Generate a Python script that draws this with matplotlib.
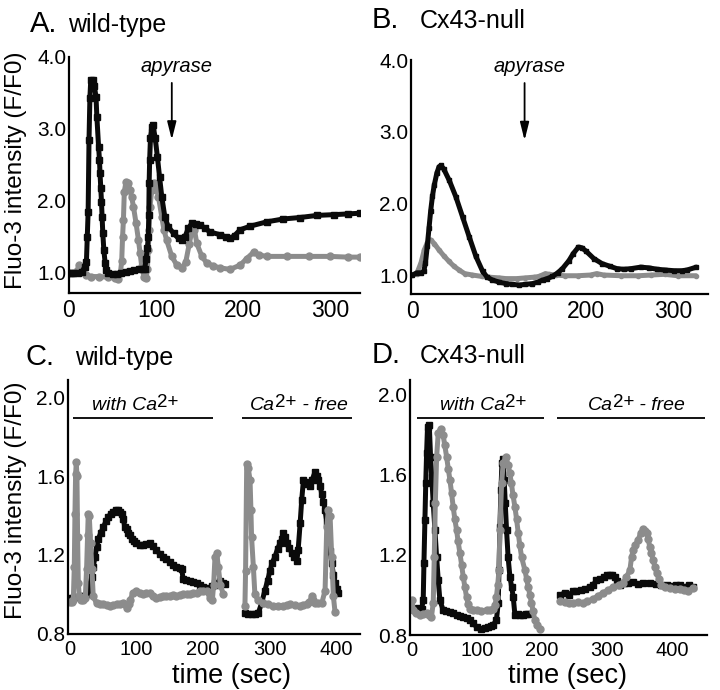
import numpy as np
import matplotlib.pyplot as plt

plt.rcParams['font.family'] = ['Liberation Sans', 'DejaVu Sans']

BLACK = '#0a0a0a'
GRAY = '#8c8c8c'

# ---- Panel A: wild-type, apyrase ----
a_black_t = [0, 5, 10, 15, 18, 20, 21, 22, 23, 24, 25, 27, 29, 31, 32, 34, 35, 35.6, 36.5, 37.3,
             38, 38.8, 40, 41.5, 43, 45, 50, 55, 60, 65, 70, 75, 80, 85, 87, 88.5, 90, 91, 91.6, 92,
             92.6, 93.5, 95, 96.5, 99, 101.5, 104, 106.5, 110, 114, 120, 125.7, 129.5, 133, 137, 141,
             146, 150.6, 156, 162, 173.6, 180, 185, 190, 196.5, 208, 227, 246, 265, 285, 304, 320, 334]
a_black_v = [1.0, 1.0, 1.0, 1.02, 1.08, 1.15, 1.5, 1.85, 2.85, 3.43, 3.68, 3.68, 3.6, 3.45, 3.17, 2.75,
             2.57, 2.39, 2.18, 1.99, 1.78, 1.56, 1.32, 1.14, 1.04, 1.0, 0.98, 0.99, 1.0, 1.02, 1.03, 1.04,
             1.05, 1.05, 1.06, 1.2, 1.35, 1.5, 1.8, 2.25, 2.57, 2.87, 3.03, 3.05, 2.87, 2.61, 2.33, 2.06,
             1.78, 1.64, 1.55, 1.48, 1.46, 1.5, 1.62, 1.69, 1.68, 1.67, 1.62, 1.57, 1.53, 1.5, 1.48, 1.52,
             1.6, 1.65, 1.71, 1.75, 1.77, 1.8, 1.81, 1.82, 1.83]
a_gray_t = [0, 5, 9, 12, 15, 20, 25, 35, 45, 53, 56, 59, 60.5, 61.5, 62.5, 63.5, 65.5, 68, 70, 72, 74,
            77, 79.7, 81.6, 83.5, 86, 88.5, 90, 91, 92, 93, 95, 97.7, 100, 102.7, 106.5, 109, 112, 118,
            123.7, 129.5, 134, 138, 142, 144, 146.7, 152.5, 158, 165, 173.6, 185, 196.5, 204, 212, 218,
            227, 250, 275, 300, 320, 334]
a_gray_v = [1.0, 1.0, 1.03, 1.11, 1.04, 0.97, 0.95, 0.95, 0.94, 0.93, 0.92, 1.0, 1.16, 1.5, 1.74, 2.13,
            2.27, 2.25, 2.15, 2.05, 1.92, 1.69, 1.46, 1.28, 1.09, 0.95, 0.93, 1.05, 1.32, 1.6, 1.92, 2.15,
            2.25, 2.18, 2.06, 1.78, 1.6, 1.46, 1.23, 1.11, 1.07, 1.15, 1.4, 1.64, 1.6, 1.41, 1.23, 1.14,
            1.1, 1.07, 1.05, 1.11, 1.2, 1.29, 1.25, 1.23, 1.23, 1.23, 1.23, 1.22, 1.22]

# ---- Panel B: Cx43-null, apyrase ----
b_black_t = [0, 5, 10, 13, 15, 17, 19, 21, 23, 25, 28, 30.5, 32.8, 36, 42.4, 50, 57.7, 65.4, 73, 80.8,
             86, 92, 100, 107.5, 115, 122.8, 130, 138, 144, 149.7, 155, 161, 167, 172.6, 180, 185, 191,
             195, 200, 208.6, 218, 227.6, 235, 243, 252, 262.6, 272, 281.8, 291, 301, 310, 316, 326.6]
b_black_v = [1.0, 1.03, 1.03, 1.05, 1.17, 1.4, 1.65, 1.9, 2.1, 2.25, 2.42, 2.51, 2.53, 2.48, 2.32, 2.09,
             1.81, 1.53, 1.26, 1.05, 0.97, 0.93, 0.9, 0.88, 0.87, 0.86, 0.87, 0.88, 0.9, 0.93, 0.95, 0.98,
             1.03, 1.09, 1.2, 1.3, 1.39, 1.38, 1.33, 1.23, 1.16, 1.12, 1.09, 1.08, 1.09, 1.11, 1.1, 1.08,
             1.07, 1.06, 1.06, 1.07, 1.11]
b_gray_t = [0, 5, 9.8, 13.6, 17, 21, 25, 30.5, 36, 42, 48, 53.7, 60, 69, 80, 88, 100, 107.5, 120, 130,
            140, 145.6, 153, 157, 165, 175, 190, 205, 212, 220, 240, 260, 275, 290, 305, 326]
b_gray_v = [1.0, 1.02, 1.17, 1.35, 1.45, 1.49, 1.44, 1.35, 1.27, 1.19, 1.12, 1.07, 1.02, 1.0, 0.98, 0.97,
            0.96, 0.95, 0.95, 0.96, 0.97, 0.98, 1.02, 1.01, 1.0, 0.99, 0.99, 1.0, 1.02, 1.0, 0.99, 0.99,
            1.0, 1.01, 0.99, 0.99]

# ---- Panel C: wild-type, with Ca2+ / Ca2+-free ----
c1_black_t = [0, 5, 10, 15, 20, 25, 27.5, 30, 32.6, 35, 37.6, 40, 42.6, 46, 50, 54, 57.6, 61, 65, 69,
              72.6, 75, 77.7, 80, 82.7, 85, 87.7, 90, 92.8, 96, 100, 105, 110, 115, 120, 125, 130, 135,
              140, 145, 150, 155, 160, 165, 168, 170, 175, 180, 185, 190.5, 195, 200.5, 205, 210.5,
              214, 218, 222, 226, 230, 233]
c1_black_v = [0.98, 0.98, 0.985, 0.99, 0.99, 1.0, 1.01, 1.05, 1.09, 1.14, 1.19, 1.24, 1.28, 1.31, 1.34,
              1.37, 1.39, 1.41, 1.42, 1.43, 1.43, 1.42, 1.41, 1.38, 1.34, 1.33, 1.31, 1.3, 1.28, 1.27,
              1.26, 1.25, 1.25, 1.255, 1.26, 1.245, 1.225, 1.205, 1.19, 1.18, 1.166, 1.15, 1.14, 1.135,
              1.13, 1.08, 1.075, 1.07, 1.065, 1.06, 1.05, 1.04, 1.035, 1.03, 1.045, 1.06, 1.05, 1.07,
              1.06, 1.055]
c2_black_t = [263, 268, 273, 278, 283, 288, 293, 297, 300.7, 304, 308, 312, 315.8, 318, 320.8, 323, 326,
              330, 333.5, 337, 341, 343, 346, 348.4, 351, 353, 356, 361, 364, 368.4, 371, 373.4, 376,
              378.5, 381, 383.5, 386, 388.5, 391, 393.5, 396, 398.5, 401, 403.5]
c2_black_v = [0.905, 0.9, 0.9, 0.9, 0.905, 0.955, 1.02, 1.07, 1.12, 1.16, 1.19, 1.23, 1.26, 1.28, 1.31,
              1.29, 1.26, 1.235, 1.21, 1.19, 1.17, 1.225, 1.36, 1.48, 1.58, 1.57, 1.56, 1.55, 1.58, 1.62,
              1.6, 1.58, 1.55, 1.51, 1.47, 1.43, 1.36, 1.29, 1.22, 1.16, 1.1, 1.06, 1.03, 1.01]
c1_gray_t = [0, 3, 5, 6.5, 7.5, 8.5, 9.5, 10.5, 11.5, 12.5, 14, 17, 20, 23, 25, 26.5, 27.5, 29, 31, 33,
             35, 40, 45, 50, 55, 60, 65, 70, 75, 80, 85, 88, 90, 95, 100, 105, 110, 115, 120, 125, 130,
             135, 140, 145, 150, 155, 160, 165, 170, 175.5, 180, 185, 190.5, 195.5, 200, 205.5, 210.5,
             214, 216, 218, 220.6, 223, 226, 230.6]
c1_gray_v = [0.96, 0.96, 0.97, 1.14, 1.41, 1.61, 1.67, 1.6, 1.29, 1.06, 0.99, 0.97, 0.97, 0.98, 1.13,
             1.3, 1.41, 1.4, 1.26, 1.13, 0.99, 0.955, 0.95, 0.95, 0.945, 0.94, 0.945, 0.95, 0.95, 0.955,
             0.93, 0.95, 0.97, 1.01, 1.02, 1.01, 1.0, 1.01, 1.01, 0.99, 0.98, 0.985, 0.99, 0.99, 0.99,
             0.995, 0.99, 0.995, 1.0, 1.0, 1.0, 1.005, 1.01, 1.02, 1.02, 1.02, 0.98, 0.97, 1.05, 1.19,
             1.21, 1.14, 1.05, 1.0]
c2_gray_t = [263, 264, 265.7, 268, 270.7, 272, 273, 275.7, 278, 283, 290.7, 298, 305.7, 313, 320.8, 326,
             331, 338, 346, 351, 356, 360, 363.4, 366, 368.4, 373, 378.5, 383.5, 386, 388.5, 391, 393.5,
             396, 398.5]
c2_gray_v = [0.94, 1.12, 1.66, 1.64, 1.58, 1.43, 1.29, 1.14, 1.0, 0.97, 0.955, 0.95, 0.94, 0.94, 0.94,
             0.945, 0.95, 0.945, 0.94, 0.945, 0.95, 0.96, 0.99, 0.97, 0.955, 0.955, 0.955, 1.02, 1.34,
             1.43, 1.4, 1.19, 0.99, 0.91]

# ---- Panel D: Cx43-null, with Ca2+ / Ca2+-free ----
d1_black_t = [0, 5, 10, 15, 17.4, 18.5, 20, 21.3, 22.6, 24, 26.7, 28.7, 30.5, 32.8, 35.4, 38, 40.5, 43,
              48, 53, 58.5, 63, 68.7, 74, 79, 84, 89, 94, 99.5, 107, 112, 117.4, 121, 125, 130, 132.8,
              134, 135.4, 137, 138.5, 140.5, 142, 143.6, 145.6, 148, 150.8, 153.5, 155.9, 158.5, 163.6,
              167, 171, 175, 179]
d1_black_v = [0.93, 0.93, 0.935, 0.93, 0.975, 1.16, 1.375, 1.56, 1.71, 1.84, 1.85, 1.69, 1.59, 1.46,
              1.325, 1.19, 1.075, 0.975, 0.925, 0.92, 0.915, 0.91, 0.9, 0.895, 0.89, 0.885, 0.875, 0.86,
              0.84, 0.83, 0.835, 0.84, 0.845, 0.85, 0.875, 0.96, 1.125, 1.34, 1.525, 1.66, 1.68, 1.575,
              1.46, 1.325, 1.19, 1.09, 1.04, 0.99, 0.9, 0.905, 0.9, 0.9, 0.905, 0.905]
d1_gray_t = [0, 2, 7, 12, 17, 22.6, 26, 30, 32.8, 34.4, 36, 38, 40.5, 44, 48, 50.5, 53.4, 56, 58.5, 61,
             63.5, 66, 68.7, 71, 73.8, 76.5, 79, 81.5, 84, 86.5, 89, 94, 99.5, 107, 115, 120, 125, 128,
             130, 132, 134, 135.4, 138, 140.5, 144.6, 148, 150.5, 153, 155.5, 158.5, 161, 163.6, 166,
             168.7, 173.8, 176.5, 179, 181.5, 184, 186.5, 189, 193, 197]
d1_gray_v = [0.975, 0.925, 0.91, 0.9, 0.905, 0.91, 0.9, 0.89, 0.96, 1.19, 1.46, 1.69, 1.81, 1.83, 1.8,
             1.75, 1.69, 1.63, 1.575, 1.51, 1.44, 1.38, 1.325, 1.27, 1.21, 1.15, 1.09, 1.04, 0.99, 0.955,
             0.93, 0.925, 0.925, 0.92, 0.925, 0.925, 0.93, 0.95, 0.99, 1.05, 1.125, 1.325, 1.56, 1.66,
             1.69, 1.65, 1.61, 1.56, 1.5, 1.44, 1.38, 1.31, 1.25, 1.19, 1.125, 1.08, 1.04, 1.0, 0.96,
             0.92, 0.875, 0.85, 0.83]
d2_black_t = [228, 235, 242, 248, 253, 260, 267, 274, 279, 284, 290, 296, 300, 304.6, 308, 312, 316, 320,
              326, 333, 340.5, 348, 356, 366, 375, 383, 392, 400, 406, 412, 420, 426, 432.8]
d2_black_v = [1.0, 1.01, 1.0, 1.02, 1.02, 1.025, 1.03, 1.04, 1.05, 1.075, 1.08, 1.09, 1.1, 1.1, 1.1,
              1.09, 1.07, 1.05, 1.06, 1.06, 1.065, 1.055, 1.06, 1.06, 1.055, 1.05, 1.05, 1.045, 1.05,
              1.05, 1.04, 1.05, 1.04]
d2_gray_t = [228, 235, 242, 248, 255, 263, 270, 279, 286, 294, 302, 310, 318, 325, 330, 335.4, 338, 340.5,
             344, 348, 352, 356, 358, 361, 363.5, 366, 368.5, 371, 374, 376.5, 380, 384, 390, 397, 405,
             412, 418, 425, 432.8]
d2_gray_v = [0.97, 0.965, 0.96, 0.96, 0.965, 0.96, 0.97, 0.98, 0.995, 1.01, 1.025, 1.04, 1.05, 1.06,
             1.09, 1.125, 1.19, 1.225, 1.25, 1.275, 1.31, 1.33, 1.32, 1.31, 1.28, 1.24, 1.21, 1.175,
             1.14, 1.11, 1.08, 1.05, 1.04, 1.035, 1.03, 1.03, 1.025, 1.02, 1.035]

# annotation data
apyrase_time = {'A': 118, 'B': 129}
c_phases = [(4.5, 215), (259, 424)]
d_phases = [(7.7, 203), (223, 451)]


def style(ax, xlim, ylim, xticks, yticks, xsize):
    ax.set_xlim(xlim)
    ax.set_ylim(ylim)
    for s in ['top', 'right']:
        ax.spines[s].set_visible(False)
    for s in ['left', 'bottom']:
        ax.spines[s].set_linewidth(1.6)
    ax.set_xticks(xticks)
    ax.set_yticks(yticks)
    ax.set_yticklabels([f'{v:.1f}' for v in yticks])
    ax.tick_params(length=0)
    ax.tick_params(axis='x', pad=4, labelsize=xsize)
    ax.tick_params(axis='y', pad=2, labelsize=15)


def trace(ax, t, v, color, marker, lw=3.6, ms=5):
    ax.plot(t, v, color=color, lw=lw, marker=marker, ms=ms, mec=color, mfc=color,
            solid_joinstyle='round', solid_capstyle='round')


def apyrase(ax, t, y0, y1):
    ax.annotate('', xy=(t, y1), xytext=(t, y0),
                arrowprops=dict(arrowstyle='-|>,head_length=0.6,head_width=0.15',
                                color='k', lw=1.3, mutation_scale=18,
                                shrinkA=0, shrinkB=0))
    ax.text(t + 6, y0 + 0.15, 'apyrase', style='italic', fontsize=14.5,
            ha='center', va='baseline')


def ca_label(ax, x, y, pre, post):
    t1 = ax.text(x, y, pre + 'Ca', style='italic', fontsize=14, va='baseline')
    t2 = ax.annotate('2+', xy=(1, 0.42), xycoords=t1, fontsize=13.5,
                     va='baseline', ha='left')
    if post:
        ax.annotate(post, xy=(1, 0), xycoords=(t2, t1), style='italic',
                    fontsize=14, va='bottom', ha='left')


def phase_bars(ax, level, phases):
    ax.hlines([level] * len(phases), [p[0] for p in phases], [p[1] for p in phases],
              color='k', lw=1.3)


fig = plt.figure(figsize=(7.2, 6.9), dpi=100)

axA = fig.add_axes([0.0958, 0.5754, 0.4042, 0.342])
trace(axA, a_gray_t, a_gray_v, GRAY, 'o')
trace(axA, a_black_t, a_black_v, BLACK, 's')
style(axA, (0, 334), (0.722, 4.0), [0, 100, 200, 300], [1.0, 2.0, 3.0, 4.0], 16.5)
apyrase(axA, apyrase_time['A'], 3.64, 2.85)

axB = fig.add_axes([0.5708, 0.5739, 0.4125, 0.339])
trace(axB, b_gray_t, b_gray_v, GRAY, 'o', ms=3)
trace(axB, b_black_t, b_black_v, BLACK, 's', ms=3)
style(axB, (-1.7, 340), (0.735, 4.0), [0, 100, 200, 300], [1.0, 2.0, 3.0, 4.0], 16.5)
apyrase(axB, apyrase_time['B'], 3.68, 2.88)

axC = fig.add_axes([0.0944, 0.0812, 0.4056, 0.368])
trace(axC, c1_black_t, c1_black_v, BLACK, 's')
trace(axC, c2_black_t, c2_black_v, BLACK, 's')
trace(axC, c1_gray_t, c1_gray_v, GRAY, 'o')
trace(axC, c2_gray_t, c2_gray_v, GRAY, 'o')
style(axC, (-3, 436), (0.8, 2.086), [0, 100, 200, 300, 400], [0.8, 1.2, 1.6, 2.0], 14.5)
phase_bars(axC, 1.894, c_phases)
ca_label(axC, 33, 1.934, 'with ', '')
ca_label(axC, 271, 1.934, '', ' - free')

axD = fig.add_axes([0.5694, 0.0797, 0.4125, 0.3696])
trace(axD, d1_black_t, d1_black_v, BLACK, 's')
trace(axD, d2_black_t, d2_black_v, BLACK, 's')
trace(axD, d1_gray_t, d1_gray_v, GRAY, 'o')
trace(axD, d2_gray_t, d2_gray_v, GRAY, 'o')
style(axD, (-3, 454), (0.8, 2.075), [0, 100, 200, 300, 400], [0.8, 1.2, 1.6, 2.0], 14.5)
phase_bars(axD, 1.883, d_phases)
ca_label(axD, 43, 1.925, 'with ', '')
ca_label(axD, 271, 1.925, '', ' - free')

# panel titles
titles = [(30, 32, 'A.', 68, 'wild-type'), (372, 28, 'B.', 420, 'Cx43-null'),
          (26, 365, 'C.', 75, 'wild-type'), (372, 363, 'D.', 420, 'Cx43-null')]
for lx, by, letter, nx, name in titles:
    fig.text(lx / 720, 1 - by / 690, letter, fontsize=21, va='baseline')
    fig.text(nx / 720, 1 - by / 690, name, fontsize=18, va='baseline')

# axis labels
for yc in [170, 500]:
    fig.text(16 / 720, 1 - yc / 690, 'Fluo-3 intensity (F/F0)', rotation=90,
             fontsize=17.5, ha='center', va='center')
for xc in [231, 567]:
    fig.text(xc / 720, 1 - 676 / 690, 'time (sec)', fontsize=19.5, ha='center', va='center')

fig.savefig('out.png', dpi=100)
